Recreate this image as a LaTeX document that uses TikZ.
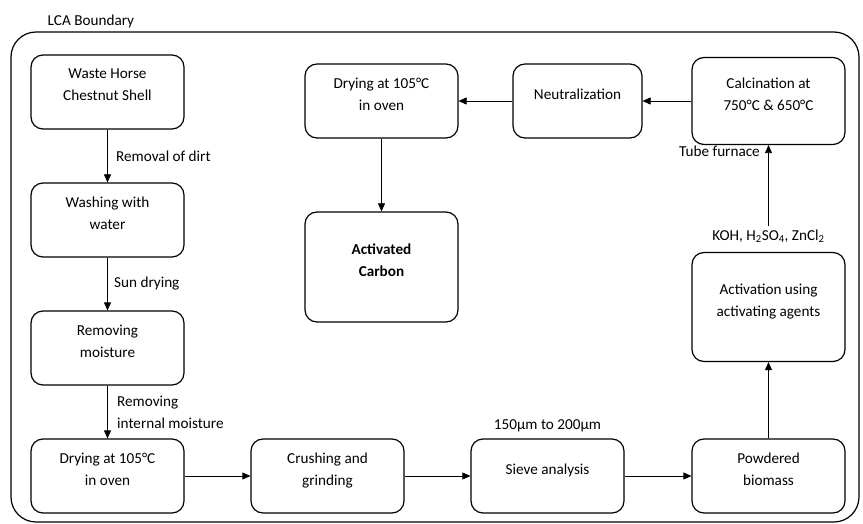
\documentclass[tikz,border=0pt]{standalone}
\usepackage{fontspec}
\setmainfont{Carlito}
\usetikzlibrary{positioning,arrows.meta}

\begin{document}
\begin{tikzpicture}[x=1pt,y=1pt,->,>={Triangle[length=8pt,width=7pt]},thick,node distance=128pt,
  main node/.style={draw=black,rounded corners=12pt,line width=1.2pt,minimum width=153pt,minimum height=74pt,align=center,font=\fontsize{15.2}{22}\selectfont,text depth=14pt},
  note/.style={font=\fontsize{15.2}{22}\selectfont,align=left}]
  \useasboundingbox (0,0) rectangle (863,-524);
  % LCA boundary
  \draw[-,line width=1.2pt,rounded corners=25pt] (11,-32) rectangle (859,-522);
  \node[note,anchor=west] (0) at (44,-21) {LCA Boundary};

  \node[main node] (1) at (107.5,-92) {Waste Horse\\Chestnut Shell};
  \node[main node] (2) [below of = 1] {Washing with\\water};
  \node[main node] (3) [below of = 2] {Removing\\moisture};
  \node[main node] (4) [below of = 3] {Drying at 105°C\\in oven};
  \node[main node] (5) [right of = 4, node distance=220pt] {Crushing and\\grinding};
  \node[main node] (6) [right of = 5, node distance=220pt] {Sieve analysis};
  \node[main node] (7) [right of = 6, node distance=221pt] {Powdered\\biomass};
  \node[main node, minimum height=109pt] (8) [above of = 7, node distance=169pt] {Activation using\\activating agents};
  \node[main node, minimum height=87pt] (9) [above of = 8, node distance=206pt] {Calcination at\\750°C \& 650°C};
  \node[main node, minimum width=129pt] (10) [left of = 9, node distance=191pt] {Neutralization};
  \node[main node] (11) [left of = 10, node distance=196pt] {Drying at 105°C\\in oven};
  \node[main node, minimum height=110pt] (12) [below of = 11, node distance=166pt] {\textbf{Activated}\\\textbf{Carbon}};

  \node[note, above=3pt of 6] (13) {150µm to 200µm};
  \node[note, above=6pt of 8] (14) {KOH, H\textsubscript{2}SO\textsubscript{4}, ZnCl\textsubscript{2}};

  \path[line width=0.7pt,every node/.style={note}]
    (1) edge node[right,xshift=5pt] {Removal of dirt} (2)
    (2) edge node[right,xshift=3pt] {Sun drying} (3)
    (3) edge node[right,xshift=6pt] {Removing\\internal moisture} (4)
    (4) edge (5)
    (5) edge (6)
    (6) edge (7)
    (7) edge (8)
    (14) edge node[left,pos=0.92,xshift=-5pt] {Tube furnace} (9)
    (9) edge (10)
    (10) edge (11)
    (11) edge (12)
    ;
\end{tikzpicture}
\end{document}
